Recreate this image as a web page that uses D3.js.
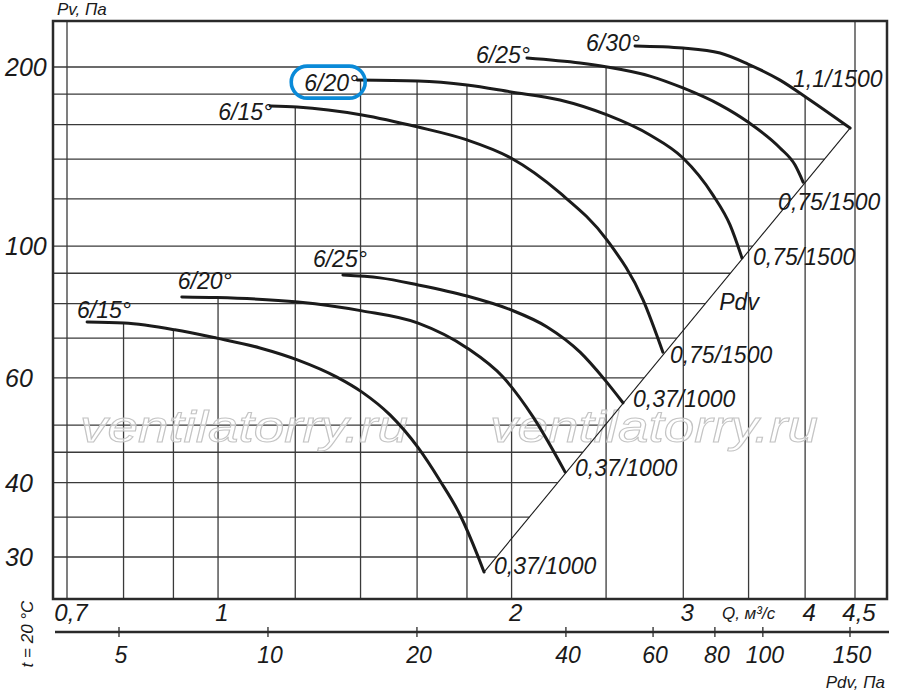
<!DOCTYPE html>
<html><head><meta charset="utf-8">
<script src="https://cdn.jsdelivr.net/npm/d3@7"></script>
<style>
body{margin:0;background:#fff}
svg{display:block}
text{font-family:"Liberation Sans",Arial,sans-serif;font-style:italic;fill:#1a1a1a}
</style>
</head><body>
<svg id="c" width="900" height="695"></svg>
<script>
// ---------- data ----------
const qTickValues = [0.7, 1, 2, 3, 4, 4.5];
const qTickLabels = ["0,7", "1", "2", "3", "4", "4,5"];
const qGrid = [0.7, 0.8, 0.9, 1, 1.2, 1.4, 1.6, 1.8, 2, 2.5, 3, 3.5, 4, 4.5];
const pTickValues = [30, 40, 60, 100, 200];
const pGrid = [30, 35, 40, 45, 50, 60, 70, 80, 90, 100, 120, 140, 160, 180, 200];
const pdvTickValues = [5, 10, 20, 40, 60, 80, 100, 150];
const bladeLabels = ["6/15°", "6/20°", "6/25°", "6/15°", "6/20°", "6/25°", "6/30°"];
const motorLabels = ["0,37/1000", "0,37/1000", "0,37/1000", "0,75/1500", "0,75/1500", "0,75/1500", "1,1/1500"];
// [Q m3/s, Pv Pa]
const curve1 = [[0.734,74.5],[0.801,74.2],[0.903,72.3],[0.997,70.0],[1.104,67.4],[1.208,64.3],[1.324,60.2],[1.405,56.8],[1.501,52.0],[1.604,45.8],[1.689,40.3],[1.771,35.3],[1.847,30.1],[1.874,28.3]];
const curve2 = [[0.918,82.1],[0.997,81.9],[1.208,80.5],[1.405,77.8],[1.604,74.2],[1.800,67.4],[1.960,60.2],[2.104,51.6],[2.269,41.7]];
const curve3 = [[1.343,89.4],[1.466,88.4],[1.604,86.0],[1.800,82.4],[1.997,78.1],[2.175,73.1],[2.351,66.3],[2.494,59.5],[2.602,54.5]];
const curve4 = [[1.131,172.0],[1.205,171.3],[1.405,166.1],[1.604,158.5],[1.800,150.8],[1.997,140.6],[2.242,122.8],[2.506,102.3],[2.728,81.2],[2.859,66.3]];
const curve5 = [[1.389,190.1],[1.604,189.4],[1.800,186.5],[1.997,181.6],[2.242,176.0],[2.506,166.1],[2.773,153.7],[2.998,140.6],[3.218,121.8],[3.350,108.5],[3.446,95.5]];
const curve6 = [[2.074,207.1],[2.351,203.1],[2.506,200.0],[2.773,193.1],[2.998,184.4],[3.272,172.7],[3.495,161.6],[3.770,146.2],[3.906,136.8],[3.981,128.1]];
const curve7 = [[2.677,216.9],[2.998,215.2],[3.272,211.1],[3.495,202.3],[3.770,190.1],[4.018,177.4],[4.448,157.9]];
const pdvLine = [[1.874,28.3],[4.448,157.9]];

const curves = [curve1, curve2, curve3, curve4, curve5, curve6, curve7];

// ---------- layout ----------
const W = 900, H = 695;
const frame = {l:53, t:21, r:887, b:599};
const startLabelOffset = [[-10,-4,"start"],[-4,-8,"start"],[-30,-8,"start"],[2,14,"end"],[1,11,"end"],[3,5,"end"],[5,5,"end"]];
const endLabelOffset = [[10,2],[10,4],[10,4],[7,11],[11,7],[-25,28],[-57,-41]];

const x = d3.scaleLog().domain([0.7, 4.5]).range([67, 855]);
const y = d3.scaleLog().domain([30, 200]).range([557, 67]);
const xp = d3.scaleLog().domain([5, 150]).range([119, 850]);

const svg = d3.select("#c");
svg.append("rect").attr("width", W).attr("height", H).attr("fill", "#fff");

const gGrid = svg.append("g");
const gWater = svg.append("g");
const gFrame = svg.append("g");
const gCurves = svg.append("g");
const gText = svg.append("g");

const line = d3.line().x(d => x(d[0])).y(d => y(d[1])).curve(d3.curveMonotoneX);

// curves
const paths = curves.map(c => gCurves.append("path")
  .attr("d", line(c)).attr("fill", "none")
  .attr("stroke", "#1b1b1b").attr("stroke-width", 3).attr("stroke-linecap", "round").node());

// Pdv diagonal
gCurves.append("path").attr("d", d3.line().x(d => x(d[0])).y(d => y(d[1]))(pdvLine))
  .attr("fill", "none").attr("stroke", "#1b1b1b").attr("stroke-width", 1.1);

// sample curves
function sample(node) {
  const len = node.getTotalLength(), pts = [];
  for (let i = 0; i <= 600; i++) { const p = node.getPointAtLength(len * i / 600); pts.push([p.x, p.y]); }
  return pts;
}
const samples = paths.map(sample);
function yAtX(pts, xx) {
  if (xx < pts[0][0] || xx > pts[pts.length - 1][0]) return null;
  for (let i = 0; i < pts.length - 1; i++) {
    const a = pts[i], b = pts[i + 1];
    if (xx >= a[0] && xx <= b[0]) { const t = (b[0] - a[0]) ? (xx - a[0]) / (b[0] - a[0]) : 0; return a[1] + t * (b[1] - a[1]); }
  }
  return null;
}
function xAtY(pts, yy) {
  for (let i = 0; i < pts.length - 1; i++) {
    const a = pts[i], b = pts[i + 1];
    if ((yy >= a[1] && yy <= b[1]) || (yy <= a[1] && yy >= b[1])) { const t = (b[1] - a[1]) ? (yy - a[1]) / (b[1] - a[1]) : 0; return a[0] + t * (b[0] - a[0]); }
  }
  return null;
}
const topCurve = samples[6];
const d0 = [x(pdvLine[0][0]), y(pdvLine[0][1])], d1 = [x(pdvLine[1][0]), y(pdvLine[1][1])];
function diagX(yy) { return d0[0] + (yy - d0[1]) * (d1[0] - d0[0]) / (d1[1] - d0[1]); }

// horizontal grid
pGrid.forEach(p => {
  const yy = y(p);
  let xe;
  if (yy <= topCurve[topCurve.length - 1][1]) { xe = xAtY(topCurve, yy); if (xe == null) xe = frame.r; }
  else xe = diagX(yy);
  gGrid.append("line").attr("x1", frame.l).attr("x2", xe).attr("y1", yy).attr("y2", yy)
    .attr("stroke", "#3a3a3a").attr("stroke-width", 1.3);
});
// vertical grid
qGrid.forEach(q => {
  const xx = x(q);
  let yt = null;
  samples.forEach(s => { const v = yAtX(s, xx); if (v != null && (yt === null || v < yt)) yt = v; });
  if (yt === null) yt = frame.t;
  gGrid.append("line").attr("x1", xx).attr("x2", xx).attr("y1", yt).attr("y2", frame.b)
    .attr("stroke", "#3a3a3a").attr("stroke-width", 1.3);
});

// watermark
[80, 490].forEach(wx => {
  gWater.append("text").attr("x", wx).attr("y", 442).text("ventilatorry.ru")
    .attr("textLength", 328).attr("lengthAdjust", "spacingAndGlyphs")
    .style("font-size", "44px").style("fill", "rgba(255,255,255,0.6)")
    .style("stroke", "#c4c4c4").style("stroke-width", 1);
});

// frame
gFrame.append("rect").attr("x", frame.l).attr("y", frame.t).attr("width", frame.r - frame.l).attr("height", frame.b - frame.t)
  .attr("fill", "none").attr("stroke", "#2a2a2a").attr("stroke-width", 2.5);

// curve labels
curves.forEach((c, i) => {
  const s = c[0], e = c[c.length - 1];
  const o = startLabelOffset[i];
  const t = gText.append("text").attr("x", x(s[0]) + o[0]).attr("y", y(s[1]) + o[1])
    .attr("text-anchor", o[2]).style("font-size", "23px").text(bladeLabels[i]);
  if (i === 4) {
    const bb = t.node().getBBox();
    gText.append("rect").attr("x", bb.x - 13).attr("y", bb.y - 4).attr("width", bb.width + 20).attr("height", bb.height + 6)
      .attr("rx", 16).attr("fill", "none").attr("stroke", "#0a8ad8").attr("stroke-width", 3.6);
  }
  const eo = endLabelOffset[i];
  gText.append("text").attr("x", x(e[0]) + eo[0]).attr("y", y(e[1]) + eo[1])
    .style("font-size", "23px").text(motorLabels[i]);
});
// Pdv label on diagonal
gText.append("text").attr("x", x(3.16) + 14).attr("y", y(80) + 6).style("font-size", "23px").text("Pdv");

// Y axis labels
pTickValues.forEach(p => {
  gText.append("text").attr("x", 5).attr("y", y(p)).attr("dy", "0.36em").style("font-size", "25px").text(p);
});
gText.append("text").attr("x", 57).attr("y", 15).style("font-size", "17px").text("Pv, Па");

// Q axis labels
qTickValues.forEach((q, i) => {
  gText.append("text").attr("x", x(q) + 4).attr("y", 621).attr("text-anchor", "middle").style("font-size", "24px").text(qTickLabels[i]);
});
gText.append("text").attr("x", x(3.5)).attr("y", 619).attr("text-anchor", "middle").style("font-size", "17px").text("Q, м³/с");

// Pdv axis
const gP = svg.append("g");
gP.append("line").attr("x1", frame.l + 2).attr("x2", frame.r + 2).attr("y1", 632).attr("y2", 632)
  .attr("stroke", "#2a2a2a").attr("stroke-width", 2.5);
pdvTickValues.forEach(p => {
  gP.append("line").attr("x1", xp(p)).attr("x2", xp(p)).attr("y1", 627).attr("y2", 637).attr("stroke", "#2a2a2a").attr("stroke-width", 1.3);
  gP.append("text").attr("x", xp(p) + 2).attr("y", 663).attr("text-anchor", "middle").style("font-size", "23px").text(p);
});
gP.append("text").attr("x", 885).attr("y", 688).attr("text-anchor", "end").style("font-size", "17px").text("Pdv, Па");
gP.append("text").attr("transform", "translate(33,634) rotate(-90)").attr("text-anchor", "middle").style("font-size", "17px").text("t = 20 °C");
</script>
</body></html>
